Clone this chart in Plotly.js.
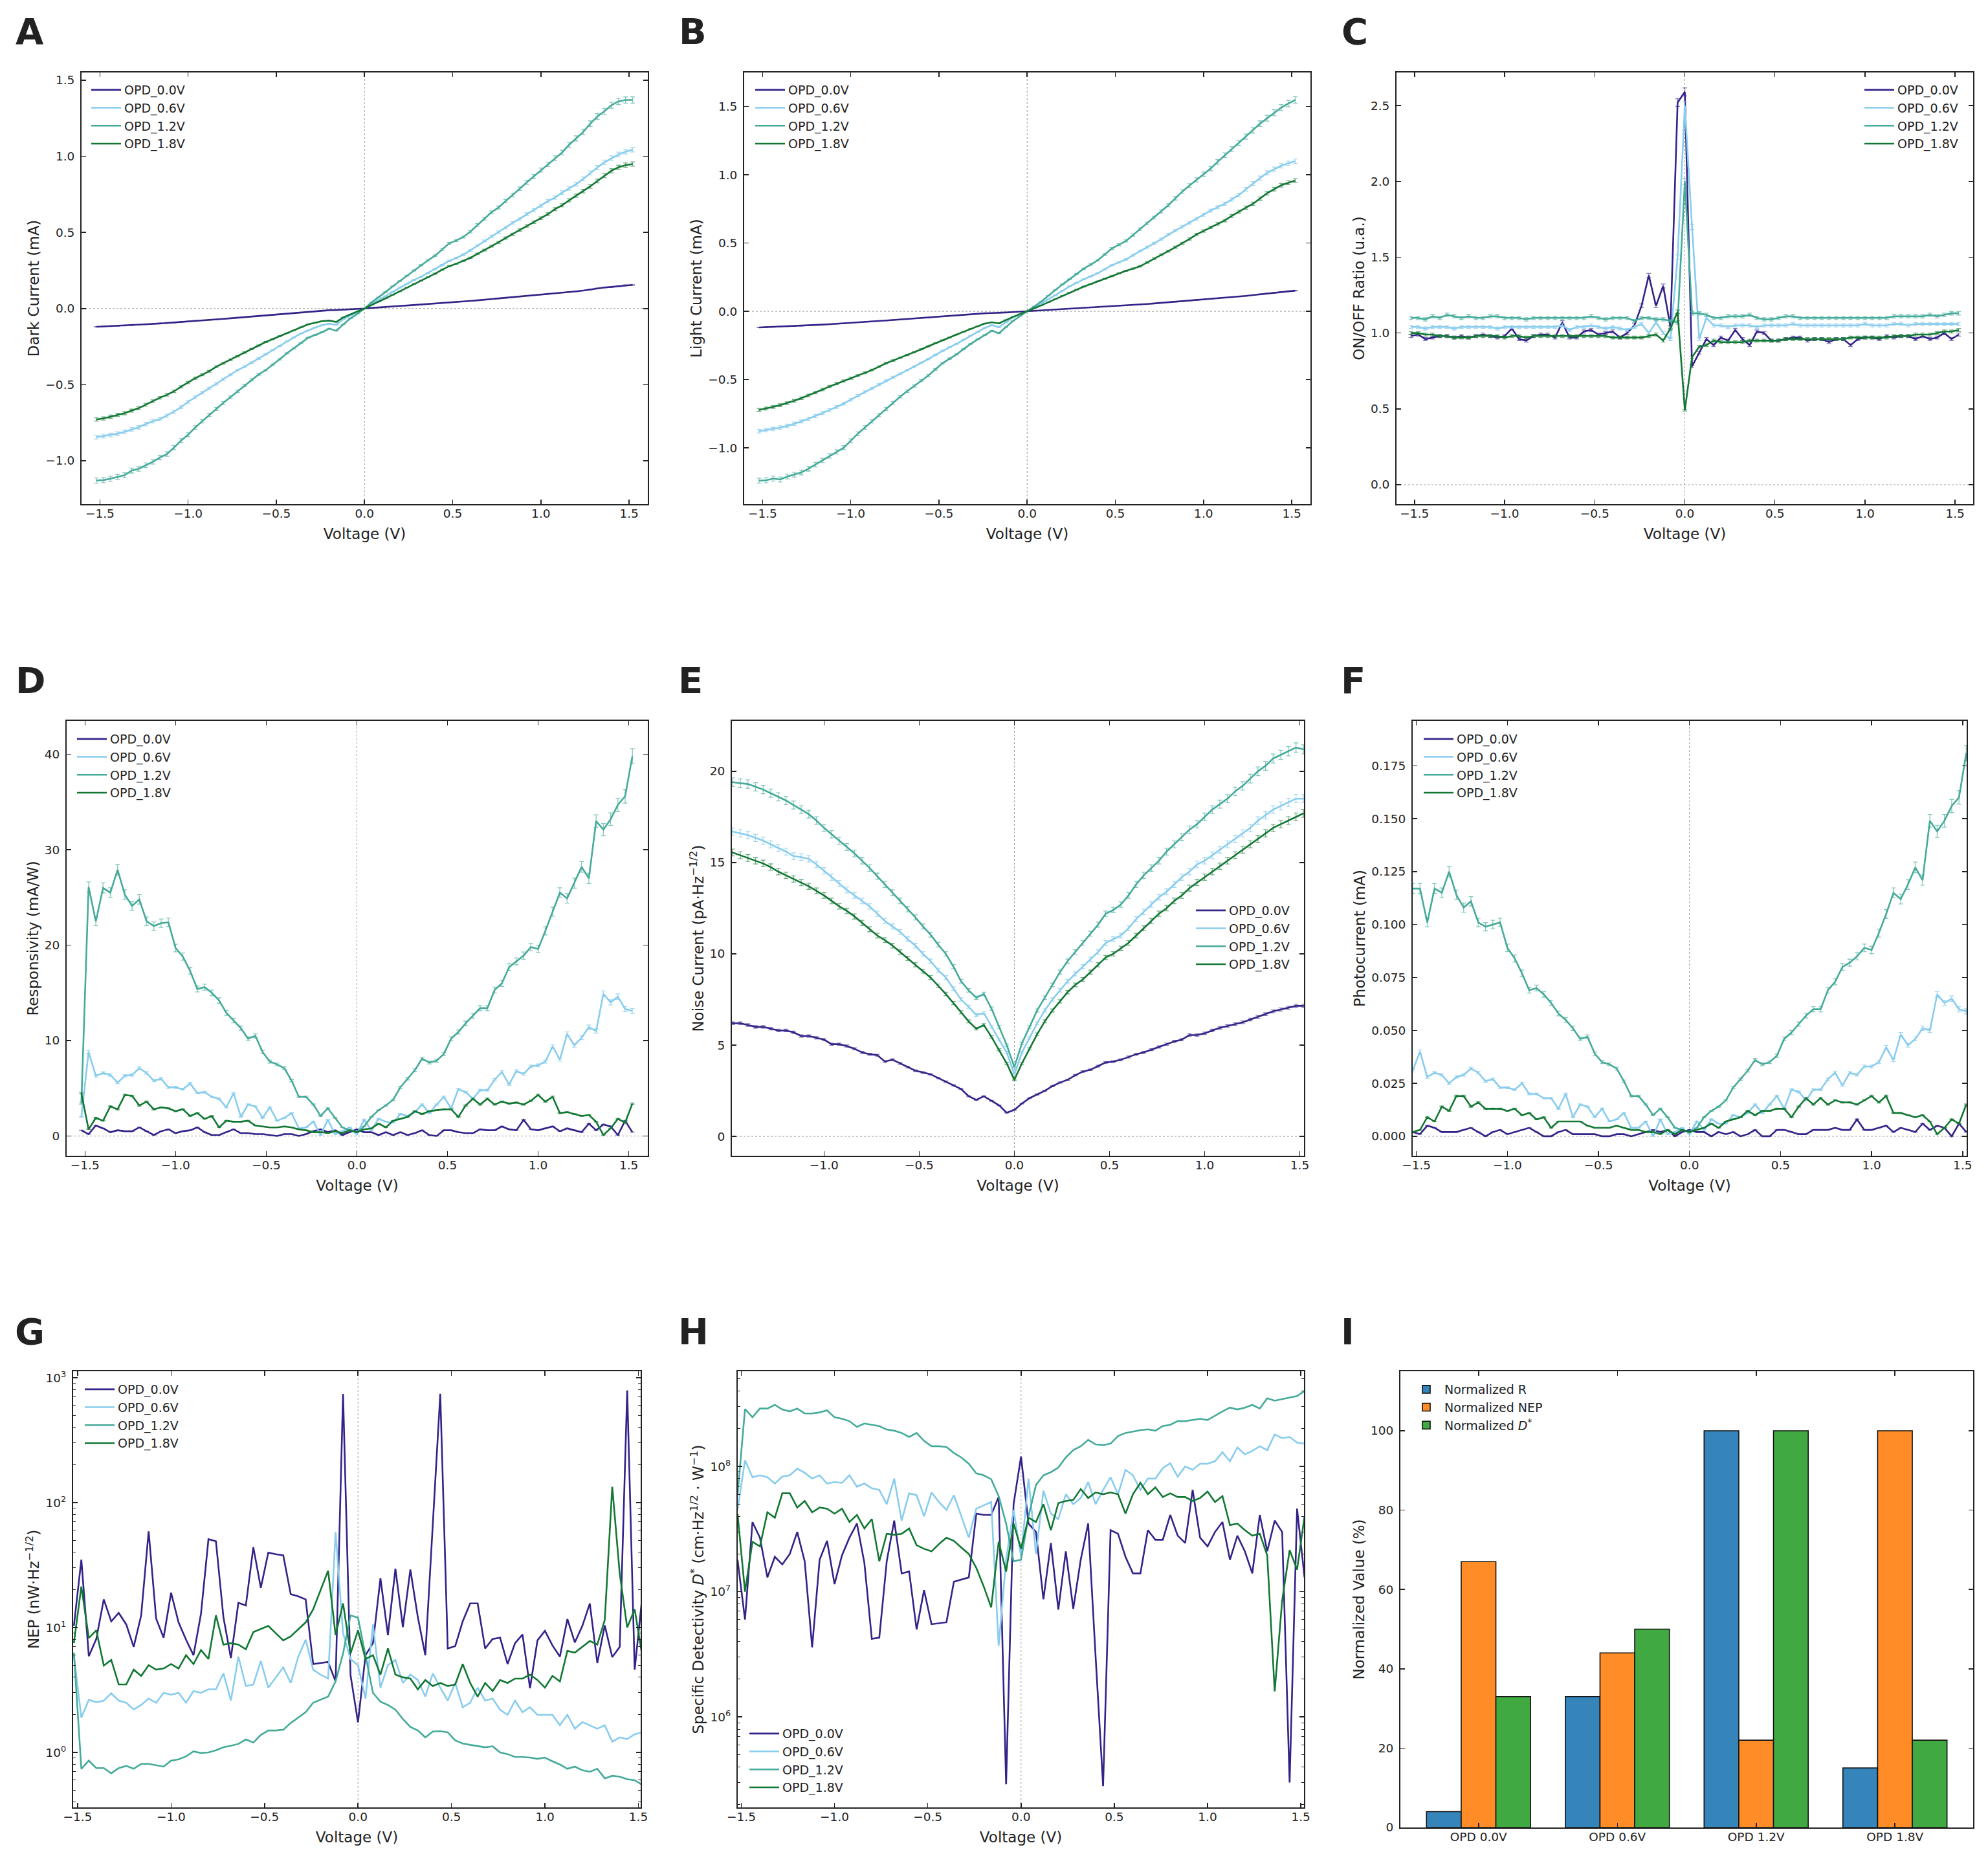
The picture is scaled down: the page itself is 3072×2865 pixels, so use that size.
<!DOCTYPE html>
<html>
<head>
<meta charset="utf-8">
<script src="https://cdn.plot.ly/plotly-3.0.1.min.js"></script>
<style>body{margin:0;background:#fff}#fig{width:3072px;height:2865px}</style>
</head>
<body>
<div id="fig"></div>
<script>
// bias voltage grid (V)
var V = [-1.52,-1.48,-1.44,-1.40,-1.36,-1.32,-1.28,-1.24,-1.20,-1.16,
  -1.12,-1.08,-1.04,-1.00,-0.96,-0.92,-0.88,-0.84,-0.80,-0.76,
  -0.72,-0.68,-0.64,-0.60,-0.56,-0.52,-0.48,-0.44,-0.40,-0.36,
  -0.32,-0.28,-0.24,-0.20,-0.16,-0.12,-0.08,-0.04,0.00,0.04,
  0.08,0.12,0.16,0.20,0.24,0.28,0.32,0.36,0.40,0.44,
  0.48,0.52,0.56,0.60,0.64,0.68,0.72,0.76,0.80,0.84,
  0.88,0.92,0.96,1.00,1.04,1.08,1.12,1.16,1.20,1.24,
  1.28,1.32,1.36,1.40,1.44,1.48,1.52];

var names = ['OPD_0.0V','OPD_0.6V','OPD_1.2V','OPD_1.8V'];
var colors = ['#332288','#88ccee','#44aa99','#117733'];
var errColors = ['rgba(51,34,136,0.6)','rgba(136,204,238,0.75)','rgba(68,170,153,0.65)','rgba(17,119,51,0.6)'];

// A: dark current (mA)
var dark00 = [-0.120,-0.118,-0.116,-0.114,-0.112,-0.110,-0.107,-0.104,-0.101,-0.098,
  -0.095,-0.092,-0.089,-0.085,-0.080,-0.077,-0.075,-0.072,-0.068,-0.064,
  -0.060,-0.056,-0.052,-0.049,-0.045,-0.041,-0.037,-0.034,-0.030,-0.026,
  -0.022,-0.018,-0.014,-0.011,-0.010,-0.008,-0.005,-0.002,0.000,0.004,
  0.008,0.011,0.014,0.017,0.020,0.023,0.026,0.030,0.033,0.036,
  0.040,0.043,0.046,0.050,0.054,0.058,0.062,0.066,0.070,0.074,
  0.078,0.084,0.088,0.091,0.096,0.101,0.105,0.109,0.113,0.118,
  0.125,0.132,0.138,0.142,0.146,0.153,0.155];
var dark06 = [-0.845,-0.838,-0.831,-0.822,-0.810,-0.794,-0.780,-0.759,-0.741,-0.727,
  -0.704,-0.678,-0.648,-0.613,-0.583,-0.553,-0.525,-0.495,-0.465,-0.435,
  -0.405,-0.382,-0.356,-0.329,-0.301,-0.273,-0.245,-0.215,-0.190,-0.164,
  -0.144,-0.125,-0.109,-0.100,-0.107,-0.070,-0.046,-0.023,0.000,0.028,
  0.056,0.081,0.109,0.137,0.162,0.188,0.208,0.234,0.259,0.285,
  0.313,0.331,0.354,0.382,0.412,0.444,0.475,0.502,0.532,0.563,
  0.590,0.620,0.648,0.676,0.706,0.729,0.762,0.789,0.817,0.852,
  0.891,0.926,0.961,0.988,1.012,1.030,1.044];
var dark12 = [-1.130,-1.127,-1.118,-1.106,-1.095,-1.065,-1.053,-1.030,-1.007,-0.979,
  -0.956,-0.914,-0.868,-0.829,-0.782,-0.741,-0.699,-0.660,-0.620,-0.583,
  -0.544,-0.505,-0.468,-0.433,-0.405,-0.370,-0.333,-0.294,-0.262,-0.227,
  -0.192,-0.174,-0.155,-0.132,-0.146,-0.104,-0.065,-0.035,0.000,0.040,
  0.074,0.109,0.146,0.180,0.215,0.250,0.285,0.317,0.347,0.387,
  0.428,0.447,0.470,0.505,0.549,0.590,0.632,0.664,0.706,0.745,
  0.787,0.829,0.868,0.910,0.947,0.988,1.025,1.076,1.118,1.160,
  1.215,1.262,1.296,1.336,1.361,1.370,1.370];
var dark18 = [-0.729,-0.722,-0.711,-0.699,-0.688,-0.671,-0.655,-0.632,-0.609,-0.586,
  -0.567,-0.544,-0.514,-0.486,-0.458,-0.435,-0.412,-0.382,-0.359,-0.336,
  -0.313,-0.289,-0.266,-0.243,-0.220,-0.201,-0.181,-0.162,-0.144,-0.123,
  -0.104,-0.093,-0.083,-0.079,-0.088,-0.058,-0.039,-0.021,0.000,0.023,
  0.044,0.067,0.090,0.113,0.139,0.162,0.183,0.206,0.229,0.255,
  0.278,0.294,0.313,0.333,0.359,0.384,0.410,0.435,0.463,0.488,
  0.516,0.542,0.567,0.593,0.620,0.653,0.678,0.711,0.741,0.771,
  0.803,0.838,0.873,0.905,0.928,0.942,0.949];

// B: light current (mA)
var light00 = [-0.118,-0.116,-0.114,-0.112,-0.110,-0.108,-0.106,-0.103,-0.100,-0.097,
  -0.094,-0.091,-0.088,-0.084,-0.080,-0.077,-0.074,-0.071,-0.067,-0.063,
  -0.059,-0.055,-0.052,-0.049,-0.045,-0.041,-0.037,-0.034,-0.030,-0.026,
  -0.022,-0.018,-0.014,-0.012,-0.011,-0.008,-0.005,-0.002,0.000,0.004,
  0.007,0.010,0.013,0.016,0.019,0.022,0.025,0.028,0.031,0.034,
  0.038,0.041,0.044,0.047,0.050,0.054,0.058,0.062,0.066,0.070,
  0.074,0.078,0.082,0.086,0.090,0.095,0.100,0.104,0.108,0.113,
  0.119,0.125,0.131,0.137,0.142,0.148,0.152];
var light06 = [-0.878,-0.870,-0.862,-0.851,-0.839,-0.823,-0.806,-0.787,-0.767,-0.745,
  -0.723,-0.700,-0.676,-0.647,-0.617,-0.591,-0.565,-0.537,-0.509,-0.483,
  -0.457,-0.431,-0.405,-0.377,-0.349,-0.319,-0.289,-0.263,-0.238,-0.208,
  -0.178,-0.150,-0.121,-0.101,-0.116,-0.080,-0.044,-0.022,0.000,0.030,
  0.059,0.089,0.119,0.151,0.183,0.209,0.235,0.257,0.279,0.308,
  0.338,0.359,0.380,0.411,0.442,0.470,0.498,0.530,0.563,0.591,
  0.620,0.650,0.679,0.708,0.738,0.763,0.788,0.820,0.852,0.894,
  0.937,0.976,1.015,1.042,1.066,1.085,1.100];
var light12 = [-1.240,-1.238,-1.225,-1.232,-1.210,-1.196,-1.180,-1.153,-1.123,-1.092,
  -1.059,-1.030,-0.999,-0.948,-0.896,-0.851,-0.806,-0.760,-0.715,-0.670,
  -0.625,-0.585,-0.547,-0.508,-0.470,-0.425,-0.380,-0.347,-0.315,-0.276,
  -0.238,-0.205,-0.173,-0.142,-0.160,-0.115,-0.070,-0.035,0.000,0.036,
  0.072,0.115,0.158,0.197,0.235,0.274,0.312,0.343,0.374,0.417,
  0.460,0.488,0.516,0.559,0.602,0.645,0.687,0.732,0.777,0.828,
  0.878,0.921,0.963,1.005,1.046,1.095,1.144,1.189,1.234,1.280,
  1.325,1.375,1.415,1.455,1.492,1.522,1.549];
var light18 = [-0.722,-0.712,-0.700,-0.687,-0.672,-0.655,-0.636,-0.616,-0.595,-0.573,
  -0.550,-0.530,-0.510,-0.490,-0.470,-0.450,-0.430,-0.405,-0.380,-0.360,
  -0.340,-0.320,-0.300,-0.278,-0.255,-0.233,-0.212,-0.191,-0.170,-0.149,
  -0.128,-0.109,-0.090,-0.080,-0.088,-0.062,-0.040,-0.020,0.000,0.022,
  0.044,0.067,0.090,0.114,0.137,0.159,0.181,0.200,0.220,0.239,
  0.258,0.278,0.297,0.313,0.330,0.358,0.387,0.414,0.441,0.470,
  0.498,0.530,0.563,0.589,0.615,0.641,0.666,0.699,0.731,0.760,
  0.788,0.826,0.865,0.895,0.924,0.942,0.958];

// C: ON/OFF ratio (u.a.)
var ratio00 = [0.98,0.99,0.96,0.97,0.98,0.98,0.97,0.98,0.97,0.98,
  0.99,0.98,0.97,0.98,1.03,0.96,0.95,0.98,0.99,0.99,
  0.97,1.07,0.97,0.97,1.01,1.02,0.99,1.00,1.01,0.97,
  1.00,1.05,1.18,1.38,1.18,1.31,1.04,2.52,2.59,0.78,
  0.87,0.96,0.92,0.97,0.95,1.02,0.96,0.92,1.01,1.00,
  0.95,0.95,0.96,0.97,0.97,0.95,0.96,0.96,0.94,0.96,
  0.96,0.92,0.96,0.97,0.97,0.96,0.98,0.97,0.98,0.98,
  0.96,0.98,0.96,0.97,1.00,0.96,0.99];
var ratio06 = [1.04,1.04,1.03,1.04,1.04,1.04,1.03,1.04,1.04,1.04,
  1.04,1.04,1.03,1.04,1.04,1.04,1.04,1.04,1.04,1.04,
  1.04,1.05,1.02,1.04,1.04,1.05,1.04,1.03,1.04,1.03,
  1.02,1.04,1.06,1.00,1.07,1.00,0.96,1.50,2.50,1.70,
  0.96,1.10,1.05,1.05,1.04,1.05,1.05,1.05,1.04,1.05,
  1.05,1.05,1.05,1.06,1.05,1.05,1.05,1.05,1.05,1.05,
  1.05,1.05,1.05,1.06,1.05,1.05,1.05,1.06,1.06,1.05,
  1.06,1.06,1.06,1.06,1.06,1.06,1.06];
var ratio12 = [1.10,1.10,1.09,1.11,1.10,1.12,1.11,1.10,1.11,1.10,
  1.10,1.11,1.11,1.10,1.10,1.10,1.09,1.10,1.10,1.10,
  1.10,1.10,1.10,1.10,1.10,1.11,1.10,1.09,1.10,1.10,
  1.10,1.08,1.10,1.10,1.09,1.09,1.08,1.07,2.00,1.13,
  1.13,1.12,1.10,1.10,1.11,1.11,1.11,1.12,1.10,1.09,
  1.09,1.10,1.11,1.11,1.10,1.10,1.10,1.10,1.10,1.10,
  1.10,1.10,1.10,1.10,1.10,1.10,1.10,1.11,1.11,1.11,
  1.11,1.11,1.12,1.11,1.12,1.13,1.13];
var ratio18 = [1.00,1.00,0.99,0.99,0.98,0.98,0.97,0.97,0.97,0.98,
  0.98,0.98,0.98,0.97,0.98,0.98,0.97,0.98,0.98,0.98,
  0.98,0.98,0.98,0.98,0.98,0.98,0.98,0.98,0.97,0.97,
  0.97,0.97,0.97,0.98,0.99,0.95,1.03,1.14,0.49,0.84,
  0.91,0.92,0.95,0.94,0.94,0.94,0.94,0.95,0.95,0.95,
  0.95,0.95,0.96,0.96,0.96,0.96,0.96,0.96,0.96,0.96,
  0.96,0.97,0.97,0.97,0.97,0.97,0.97,0.98,0.98,0.98,
  0.99,0.99,0.99,1.00,1.01,1.01,1.02];

// D: responsivity (mA/W)
var resp00 = [0.6,0.2,1.1,0.8,0.4,0.6,0.5,0.5,0.9,0.5,
  0.1,0.5,0.7,0.3,0.5,0.6,0.9,0.4,0.1,0.1,
  0.4,0.7,0.3,0.3,0.2,0.2,0.1,0.0,0.2,0.2,
  0.0,0.2,0.5,0.7,0.4,0.6,0.1,0.4,0.7,0.4,
  0.4,0.1,0.4,0.1,0.4,0.1,0.3,0.6,0.1,0.0,
  0.6,0.6,0.4,0.3,0.3,0.7,0.6,0.6,1.0,0.7,
  0.6,1.7,0.7,0.6,0.8,1.0,0.5,0.8,0.6,0.4,
  1.3,0.6,1.2,1.0,0.1,1.6,0.4];
var resp06 = [2.0,8.8,6.3,6.6,6.4,5.6,6.3,6.4,7.1,6.6,
  5.8,6.0,5.1,5.1,4.9,5.5,4.5,4.6,4.1,3.9,
  3.0,4.5,2.0,3.3,3.1,1.9,3.0,1.6,1.9,2.4,
  0.8,0.9,1.5,0.1,1.7,0.2,0.5,0.9,0.2,1.7,
  0.6,1.8,1.5,1.4,2.3,2.1,2.5,3.3,2.4,3.3,
  4.1,2.9,4.9,4.6,3.9,4.8,4.8,5.9,6.7,5.4,
  6.8,6.5,7.3,7.4,7.8,9.4,8.0,10.7,9.5,10.3,
  11.4,11.0,14.9,14.0,14.6,13.3,13.1];
var resp12 = [3.4,26.1,22.5,26.0,25.5,27.9,25.3,24.1,24.8,22.5,
  22.0,22.3,22.4,19.7,18.8,17.3,15.4,15.6,15.0,14.2,
  12.9,12.1,11.3,10.2,10.5,8.8,7.8,7.5,7.1,5.8,
  4.1,4.1,3.3,2.1,2.9,1.9,0.9,0.6,0.4,1.0,
  2.0,2.7,3.2,3.8,5.1,6.0,6.9,8.1,7.7,7.9,
  8.6,10.2,10.9,11.8,12.6,13.4,13.4,15.3,16.0,17.7,
  18.3,18.9,19.8,19.6,21.5,23.5,25.5,24.9,26.5,28.2,
  27.0,33.0,32.1,33.2,34.7,35.6,39.8];
var resp18 = [4.5,0.7,1.9,1.6,3.1,2.8,4.3,4.2,3.2,3.6,
  2.8,3.0,2.9,2.6,2.8,2.1,2.4,1.8,2.1,0.9,
  1.6,1.5,1.5,1.6,1.1,1.0,0.9,0.9,1.0,0.9,
  0.7,0.6,0.4,0.4,0.3,0.5,0.3,0.6,0.4,0.7,
  0.8,1.3,0.9,1.6,1.8,2.0,2.6,2.3,2.6,2.7,
  2.8,2.8,2.0,3.2,3.9,3.3,3.9,3.3,3.6,3.4,
  3.5,3.3,3.7,4.3,3.6,4.1,2.4,2.5,2.3,2.1,
  2.2,1.5,0.1,0.8,1.8,1.4,3.4];

// E: noise current (pA/Hz^1/2)
var noise00 = [6.2,6.2,6.2,6.1,6.0,6.0,5.9,5.8,5.8,5.7,
  5.5,5.5,5.4,5.3,5.05,5.05,4.95,4.8,4.6,4.5,
  4.45,4.1,4.2,4.0,3.8,3.6,3.5,3.4,3.2,3.0,
  2.8,2.6,2.2,2.0,2.2,1.95,1.7,1.3,1.45,1.8,
  2.1,2.3,2.5,2.75,2.95,3.1,3.35,3.55,3.65,3.85,
  4.05,4.1,4.2,4.35,4.5,4.6,4.75,4.9,5.05,5.2,
  5.3,5.55,5.55,5.65,5.8,5.95,6.05,6.15,6.25,6.4,
  6.55,6.7,6.85,6.95,7.05,7.15,7.15];
var noise06 = [16.75,16.7,16.6,16.5,16.35,16.2,16.0,15.8,15.6,15.35,
  15.3,15.2,14.9,14.55,14.2,13.85,13.5,13.2,12.9,12.6,
  12.2,11.8,11.5,11.2,10.8,10.45,10.0,9.6,9.1,8.7,
  8.1,7.5,7.1,6.65,6.75,6.0,5.3,4.6,3.4,4.6,
  5.4,6.2,6.9,7.5,8.0,8.5,8.9,9.3,9.7,10.1,
  10.6,10.8,11.0,11.4,11.9,12.3,12.7,13.1,13.4,13.8,
  14.2,14.5,14.9,15.1,15.4,15.7,16.0,16.3,16.6,16.9,
  17.3,17.6,17.9,18.1,18.3,18.5,18.5];
var noise12 = [19.4,19.4,19.35,19.3,19.15,19.0,18.8,18.6,18.4,18.15,
  17.9,17.65,17.3,16.9,16.55,16.2,15.85,15.5,15.1,14.7,
  14.25,13.8,13.35,12.9,12.45,12.0,11.5,11.05,10.5,10.0,
  9.3,8.5,8.0,7.6,7.8,7.0,6.0,5.0,3.8,5.1,
  6.0,6.9,7.6,8.3,9.0,9.6,10.1,10.6,11.1,11.6,
  12.2,12.4,12.7,13.2,13.8,14.3,14.7,15.1,15.6,16.0,
  16.4,16.8,17.1,17.5,17.9,18.2,18.5,18.9,19.2,19.6,
  20.0,20.3,20.7,20.9,21.1,21.3,21.2];
var noise18 = [15.6,15.55,15.4,15.25,15.1,14.95,14.75,14.5,14.3,14.1,
  13.9,13.7,13.45,13.2,12.9,12.6,12.35,12.05,11.7,11.35,
  11.0,10.75,10.45,10.1,9.75,9.4,9.05,8.7,8.25,7.8,
  7.3,6.8,6.3,5.9,6.1,5.45,4.75,4.0,3.1,4.0,
  4.8,5.6,6.3,6.9,7.4,7.9,8.3,8.6,9.0,9.4,
  9.8,10.0,10.3,10.6,11.0,11.4,11.8,12.2,12.5,12.9,
  13.2,13.6,13.9,14.2,14.5,14.8,15.1,15.4,15.7,16.0,
  16.3,16.6,16.9,17.1,17.3,17.5,17.7];

// F: photocurrent (mA)
var photo00 = [0.002,0.001,0.005,0.004,0.002,0.002,0.002,0.003,0.004,0.002,
  0.000,0.002,0.003,0.001,0.002,0.003,0.004,0.002,0.000,0.000,
  0.002,0.003,0.001,0.001,0.001,0.001,0.000,0.000,0.001,0.001,
  0.000,0.001,0.002,0.003,0.002,0.003,0.000,0.002,0.003,0.002,
  0.002,0.000,0.002,0.001,0.002,0.000,0.001,0.003,0.000,0.000,
  0.003,0.003,0.002,0.001,0.001,0.003,0.003,0.003,0.004,0.003,
  0.003,0.008,0.003,0.003,0.004,0.005,0.002,0.004,0.003,0.002,
  0.006,0.003,0.005,0.004,0.000,0.006,0.002];
var photo06 = [0.031,0.040,0.028,0.030,0.029,0.025,0.028,0.029,0.032,0.030,
  0.026,0.027,0.023,0.023,0.022,0.025,0.020,0.020,0.018,0.018,
  0.013,0.020,0.009,0.015,0.014,0.009,0.013,0.007,0.008,0.011,
  0.004,0.004,0.007,0.000,0.008,0.001,0.002,0.004,0.001,0.007,
  0.003,0.008,0.006,0.006,0.010,0.009,0.011,0.015,0.011,0.015,
  0.019,0.013,0.022,0.021,0.017,0.022,0.022,0.027,0.030,0.024,
  0.030,0.029,0.033,0.033,0.035,0.042,0.036,0.048,0.043,0.046,
  0.051,0.050,0.067,0.063,0.065,0.060,0.059];
var photo12 = [0.117,0.117,0.101,0.117,0.115,0.125,0.114,0.108,0.111,0.101,
  0.099,0.100,0.101,0.089,0.084,0.077,0.069,0.070,0.067,0.063,
  0.058,0.055,0.051,0.046,0.047,0.039,0.035,0.034,0.032,0.026,
  0.019,0.019,0.015,0.010,0.013,0.009,0.004,0.003,0.002,0.004,
  0.009,0.012,0.014,0.017,0.023,0.027,0.031,0.036,0.034,0.035,
  0.038,0.046,0.049,0.053,0.057,0.060,0.060,0.069,0.073,0.080,
  0.082,0.085,0.089,0.088,0.096,0.105,0.115,0.112,0.119,0.127,
  0.121,0.149,0.144,0.149,0.156,0.160,0.181];
var photo18 = [0.002,0.003,0.009,0.007,0.014,0.012,0.019,0.019,0.014,0.016,
  0.013,0.013,0.013,0.012,0.013,0.010,0.011,0.008,0.009,0.004,
  0.007,0.007,0.007,0.007,0.005,0.004,0.004,0.004,0.005,0.004,
  0.003,0.003,0.002,0.002,0.001,0.003,0.001,0.003,0.002,0.003,
  0.004,0.006,0.004,0.007,0.008,0.009,0.012,0.010,0.012,0.012,
  0.013,0.013,0.009,0.014,0.018,0.015,0.018,0.015,0.017,0.016,
  0.016,0.015,0.017,0.019,0.016,0.019,0.011,0.011,0.010,0.009,
  0.010,0.007,0.001,0.004,0.008,0.006,0.015];

// G: NEP (nW/Hz^1/2)
var nep00 = [10.3,35,5.9,8.1,16.8,11.2,13.1,10.6,7.0,12.5,
  59,11.8,8.3,19,11,8.0,6.0,12.9,51,49,
  12.1,5.7,15.8,15.0,44,20.8,39.8,38.6,37.9,18.5,
  17.8,16.8,5.1,5.2,5.3,3.7,743,4.15,1.74,6.0,
  7.5,24.8,8.7,29.6,10.1,29.1,12.1,6.0,67,745,
  6.8,7.1,11.2,15.6,15.6,6.8,8.1,8.3,5.1,7.5,
  8.8,3.27,7.9,9.4,7.2,5.85,11.7,7.6,10.3,15.6,
  5.2,10.4,5.8,7.0,793,4.6,17.4];
var nep06 = [6.0,1.9,2.64,2.52,2.6,2.98,2.6,2.5,2.21,2.4,
  2.7,2.5,3.0,2.9,3.0,2.5,3.1,3.0,3.2,3.2,
  4.3,2.6,5.85,3.4,3.5,5.4,3.3,4.0,4.8,3.6,
  5.8,8.0,4.6,4.2,3.9,58,9.0,5.6,5.0,2.7,
  10.6,3.3,5.0,5.5,3.6,4.2,3.8,2.8,4.3,3.3,
  2.6,3.6,2.3,2.5,3.3,2.6,2.7,2.2,2.0,2.6,
  2.1,2.3,2.0,2.0,2.0,1.65,2.0,1.55,1.75,1.65,
  1.55,1.65,1.22,1.32,1.28,1.4,1.45];
var nep12 = [6.3,0.74,0.86,0.75,0.75,0.68,0.75,0.78,0.74,0.81,
  0.81,0.79,0.77,0.86,0.88,0.93,1.02,0.99,1.0,1.04,
  1.1,1.13,1.17,1.27,1.2,1.38,1.5,1.5,1.52,1.72,
  1.9,2.1,2.5,2.65,2.8,3.7,6.2,12.5,12,6.0,
  3.0,2.55,2.4,2.2,1.85,1.6,1.5,1.32,1.47,1.48,
  1.45,1.25,1.18,1.15,1.12,1.1,1.12,1.0,0.97,0.92,
  0.92,0.91,0.89,0.91,0.85,0.8,0.74,0.77,0.72,0.7,
  0.74,0.62,0.65,0.64,0.61,0.6,0.55];
var nep18 = [7.5,21.3,8.25,9.5,4.96,5.5,3.5,3.5,4.6,4.1,
  5.0,4.6,4.7,5.1,4.7,6.0,5.1,6.6,5.6,12.5,
  7.3,7.5,7.3,6.7,9.2,9.7,10.3,9.0,7.9,8.5,
  9.7,11,14,20,28.5,8.7,15.6,6.2,9.5,5.6,
  6.0,4.2,6.8,4.2,4.0,3.9,3.2,3.8,3.4,3.6,
  3.4,3.5,5.1,3.6,2.8,3.6,3.1,3.8,3.6,3.9,
  3.9,4.2,3.8,3.3,4.1,3.7,6.5,6.3,7.0,7.8,
  7.3,11.5,134,27,10,14,6];

// H: specific detectivity (Jones)
var det00 = [1.8e7,6.0e6,3.6e7,2.7e7,1.3e7,1.9e7,1.65e7,2.0e7,3.0e7,1.75e7,
  3.6e6,1.8e7,2.55e7,1.15e7,1.95e7,2.7e7,3.5e7,1.7e7,4.2e6,4.3e6,
  1.75e7,3.7e7,1.4e7,1.45e7,5.0e6,1.03e7,5.5e6,5.6e6,5.7e6,1.2e7,
  1.25e7,1.3e7,4.2e7,4.1e7,4.1e7,5.7e7,2.9e5,5.0e7,1.2e8,3.5e7,
  3.0e7,8.7e6,2.45e7,7.2e6,2.1e7,7.3e6,1.8e7,3.5e7,3.0e6,2.8e5,
  3.1e7,2.9e7,1.9e7,1.4e7,1.4e7,3.1e7,2.6e7,2.6e7,4.1e7,2.8e7,
  2.45e7,6.5e7,2.7e7,2.3e7,3.0e7,3.6e7,1.8e7,2.8e7,2.1e7,1.4e7,
  4.1e7,2.1e7,3.7e7,3.0e7,3.0e5,4.6e7,1.3e7];
var det06 = [4.5e7,1.12e8,8.2e7,8.5e7,8.2e7,7.3e7,8.3e7,8.5e7,9.6e7,8.9e7,
  8.0e7,8.5e7,7.3e7,7.5e7,7.4e7,8.5e7,6.9e7,7.3e7,6.7e7,6.5e7,
  5.0e7,8.0e7,3.7e7,6.1e7,5.9e7,4.0e7,6.2e7,5.2e7,4.5e7,5.9e7,
  4.0e7,2.7e7,4.6e7,4.9e7,5.2e7,3.7e6,1.8e7,4.5e7,1.9e7,8.0e7,
  2.0e7,6.4e7,4.2e7,3.8e7,6.0e7,5.0e7,5.6e7,7.5e7,5.0e7,6.5e7,
  8.2e7,6.0e7,9.4e7,8.5e7,6.5e7,8.0e7,8.0e7,9.7e7,1.06e8,8.3e7,
  1.0e8,9.4e7,1.05e8,1.05e8,1.1e8,1.3e8,1.1e8,1.42e8,1.25e8,1.33e8,
  1.45e8,1.35e8,1.8e8,1.68e8,1.72e8,1.55e8,1.52e8];
var det12 = [5.9e7,2.87e8,2.47e8,2.9e8,2.9e8,3.1e8,2.85e8,2.75e8,2.9e8,2.65e8,
  2.65e8,2.7e8,2.8e8,2.47e8,2.4e8,2.3e8,2.07e8,2.2e8,2.15e8,2.1e8,
  1.97e8,1.93e8,1.85e8,1.72e8,1.85e8,1.6e8,1.45e8,1.45e8,1.43e8,1.28e8,
  1.18e8,1.05e8,8.8e7,8.5e7,7.9e7,5.8e7,3.5e7,1.75e7,1.8e7,4.0e7,
  7.1e7,8.5e7,9.0e7,9.8e7,1.18e8,1.35e8,1.45e8,1.63e8,1.5e8,1.48e8,
  1.52e8,1.75e8,1.85e8,1.9e8,1.95e8,1.98e8,1.93e8,2.1e8,2.15e8,2.3e8,
  2.3e8,2.35e8,2.4e8,2.35e8,2.55e8,2.75e8,2.95e8,2.85e8,2.95e8,3.1e8,
  2.9e8,3.5e8,3.35e8,3.45e8,3.55e8,3.65e8,4.0e8];
var det18 = [4.2e7,1.0e7,2.5e7,2.3e7,4.3e7,3.9e7,6.1e7,6.1e7,4.7e7,5.3e7,
  4.3e7,4.7e7,4.6e7,4.2e7,4.6e7,3.6e7,4.1e7,3.2e7,3.8e7,1.75e7,
  2.9e7,2.85e7,2.9e7,3.2e7,2.35e7,2.2e7,2.1e7,2.4e7,2.7e7,2.55e7,
  2.25e7,2.0e7,1.55e7,1.1e7,7.5e6,2.5e7,1.45e7,3.5e7,2.2e7,3.9e7,
  3.6e7,5.0e7,3.1e7,5.1e7,5.3e7,5.4e7,6.6e7,5.6e7,6.2e7,6.0e7,
  6.2e7,6.0e7,4.2e7,6.0e7,7.4e7,6.0e7,6.8e7,5.7e7,6.1e7,5.7e7,
  5.7e7,5.3e7,5.6e7,6.3e7,5.2e7,5.8e7,3.4e7,3.5e7,3.1e7,2.8e7,
  2.9e7,1.95e7,1.6e6,8.5e6,2.15e7,1.5e7,4.0e7];

// I: normalized figures of merit (%)
var devices = ['OPD 0.0V','OPD 0.6V','OPD 1.2V','OPD 1.8V'];
var normR = [4, 33, 100, 15];
var normNEP = [67, 44, 22, 100];
var normD = [33, 50, 100, 22];

var traces = [];

function sfx(n) { return n > 1 ? String(n) : ''; }

function addPanel(n, series, errPct) {
  series.forEach(function(ys, i) {
    var t = {
      type: 'scatter', mode: 'lines', x: V, y: ys, name: names[i],
      xaxis: 'x' + sfx(n), yaxis: 'y' + sfx(n), legend: 'legend' + sfx(n),
      line: {color: colors[i], width: 2.6}, hoverinfo: 'skip'
    };
    if (errPct) t.error_y = {type: 'percent', value: errPct, color: errColors[i], thickness: 1.3, width: 3.5};
    traces.push(t);
  });
}

addPanel(1, [dark00, dark06, dark12, dark18], 1.5);
addPanel(2, [light00, light06, light12, light18], 1.5);
addPanel(3, [ratio00, ratio06, ratio12, ratio18], 1);
addPanel(4, [resp00, resp06, resp12, resp18], 2);
addPanel(5, [noise00, noise06, noise12, noise18], 1.2);
addPanel(6, [photo00, photo06, photo12, photo18], 2);
addPanel(7, [nep00, nep06, nep12, nep18], 0);
addPanel(8, [det00, det06, det12, det18], 0);

var barCols = ['#3585bb', '#ff8c26', '#41a941'];
var barNames = ['Normalized R', 'Normalized NEP', 'Normalized <i>D</i><sup>*</sup>'];
[normR, normNEP, normD].forEach(function(vals, i) {
  traces.push({
    type: 'bar', x: devices, y: vals, name: barNames[i],
    xaxis: 'x9', yaxis: 'y9', legend: 'legend9',
    marker: {color: barCols[i], line: {color: '#111', width: 1.6}}, hoverinfo: 'skip'
  });
});

var W = 3072, H = 2865;
var tickFont = {family: 'DejaVu Sans', size: 18.5, color: '#222'};
var titleFont = {family: 'DejaVu Sans', size: 23, color: '#222'};

function ax(px0, px1, horiz, extra) {
  var dom = horiz ? [px0 / W, px1 / W] : [1 - px1 / H, 1 - px0 / H];
  var a = {
    domain: dom, showline: true, mirror: 'allticks', linecolor: '#222', linewidth: 2,
    ticks: 'inside', ticklen: 7, tickwidth: 1.5, tickcolor: '#222',
    showgrid: false, zeroline: false, tickfont: tickFont,
    ticklabelstandoff: horiz ? -3 : 5
  };
  return Object.assign(a, extra);
}

function xt(text) { return {text: text, font: titleFont, standoff: 14}; }
function yt(text) { return {text: text, font: titleFont, standoff: 3}; }

var volt = 'Voltage (V)';
var logMinor = {ticks: 'inside', ticklen: 4, tickwidth: 1, tickcolor: '#222', dtick: 'D1', showgrid: false};

var layout = {
  width: W, height: H, margin: {l: 0, r: 0, t: 0, b: 0},
  paper_bgcolor: '#fff', plot_bgcolor: '#fff', showlegend: true,
  font: {family: 'DejaVu Sans', color: '#222'},
  barmode: 'group', bargap: 0.25, bargroupgap: 0,

  xaxis: ax(126, 1001, true, {anchor: 'y', range: [-1.604, 1.606], dtick: 0.5, tickformat: '.1f', title: xt(volt)}),
  yaxis: ax(112, 779, false, {anchor: 'x', range: [-1.285, 1.551], dtick: 0.5, tickformat: '.1f', title: yt('Dark Current (mA)')}),
  xaxis2: ax(1150, 2025, true, {anchor: 'y2', range: [-1.604, 1.606], dtick: 0.5, tickformat: '.1f', title: xt(volt)}),
  yaxis2: ax(112, 779, false, {anchor: 'x2', range: [-1.412, 1.75], dtick: 0.5, tickformat: '.1f', title: yt('Light Current (mA)')}),
  xaxis3: ax(2158, 3049, true, {anchor: 'y3', range: [-1.6, 1.6], dtick: 0.5, tickformat: '.1f', title: xt(volt)}),
  yaxis3: ax(112, 779, false, {anchor: 'x3', range: [-0.128, 2.718], dtick: 0.5, tickformat: '.1f', title: yt('ON/OFF Ratio (u.a.)')}),

  xaxis4: ax(103, 1001, true, {anchor: 'y4', range: [-1.601, 1.605], dtick: 0.5, tickformat: '.1f', title: xt(volt)}),
  yaxis4: ax(1114, 1786, false, {anchor: 'x4', range: [-2.07, 43.5], dtick: 10, title: yt('Responsivity (mA/W)')}),
  xaxis5: ax(1131, 2015, true, {anchor: 'y5', range: [-1.484, 1.522], dtick: 0.5, tickformat: '.1f', title: xt(volt)}),
  yaxis5: ax(1114, 1786, false, {anchor: 'x5', range: [-1.06, 22.76], dtick: 5, title: yt('Noise Current (pA·Hz<sup>−1/2</sup>)')}),
  xaxis6: ax(2183, 3039, true, {anchor: 'y6', range: [-1.52, 1.522], dtick: 0.5, tickformat: '.1f', title: xt(volt)}),
  yaxis6: ax(1114, 1786, false, {anchor: 'x6', range: [-0.0092, 0.1962], dtick: 0.025, tickformat: '.3f', title: yt('Photocurrent (mA)')}),

  xaxis7: ax(113, 990, true, {anchor: 'y7', range: [-1.524, 1.512], dtick: 0.5, tickformat: '.1f', title: xt(volt)}),
  yaxis7: ax(2119, 2793, false, {anchor: 'x7', type: 'log', range: [-0.44, 3.052],
    tickmode: 'array', tickvals: [1, 10, 100, 1000],
    ticktext: ['10<sup>0</sup>', '10<sup>1</sup>', '10<sup>2</sup>', '10<sup>3</sup>'],
    minor: logMinor, title: yt('NEP (nW·Hz<sup>−1/2</sup>)')}),
  xaxis8: ax(1140, 2015, true, {anchor: 'y8', range: [-1.519, 1.517], dtick: 0.5, tickformat: '.1f', title: xt(volt)}),
  yaxis8: ax(2119, 2793, false, {anchor: 'x8', type: 'log', range: [5.278, 8.76],
    tickmode: 'array', tickvals: [1e6, 1e7, 1e8],
    ticktext: ['10<sup>6</sup>', '10<sup>7</sup>', '10<sup>8</sup>'],
    minor: logMinor, title: yt('Specific Detectivity <i>D</i><sup>*</sup> (cm·Hz<sup>1/2</sup> · W<sup>−1</sup>)')}),
  xaxis9: ax(2164, 3049, true, {anchor: 'y9', type: 'category', range: [-0.563, 3.563]}),
  yaxis9: ax(2119, 2824, false, {anchor: 'x9', range: [0, 115], dtick: 20, title: yt('Normalized Value (%)')}),

  shapes: [],
  annotations: []
};

function legendAt(xpx, ypx, anchorY) {
  return {
    x: xpx / W, y: 1 - ypx / H, xanchor: 'left', yanchor: anchorY || 'top',
    bgcolor: 'rgba(0,0,0,0)', borderwidth: 0, tracegroupgap: 0, itemwidth: 46,
    font: {family: 'DejaVu Sans', size: 19, color: '#222'}
  };
}
layout.legend = legendAt(136, 120);
layout.legend2 = legendAt(1162, 120);
layout.legend3 = legendAt(2876, 120);
layout.legend4 = legendAt(114, 1123);
layout.legend5 = legendAt(1843, 1388);
layout.legend6 = legendAt(2195, 1123);
layout.legend7 = legendAt(126, 2128);
layout.legend8 = legendAt(1153, 2781, 'bottom');
layout.legend9 = legendAt(2176, 2128);

// dotted reference lines at zero
var refStyle = {color: '#9a9a9a', width: 1, dash: 'dot'};
for (var n = 1; n <= 8; n++) {
  var s = sfx(n);
  layout.shapes.push({type: 'line', xref: 'x' + s, yref: 'y' + s + ' domain', x0: 0, x1: 0, y0: 0, y1: 1, line: refStyle, layer: 'below'});
  if (n <= 6) {
    layout.shapes.push({type: 'line', xref: 'x' + s + ' domain', yref: 'y' + s, x0: 0, x1: 1, y0: 0, y1: 0, line: refStyle, layer: 'below'});
  }
}

// panel letters
var letters = [['A', 46, 48], ['B', 1070, 48], ['C', 2093, 48],
  ['D', 47, 1052], ['E', 1067, 1052], ['F', 2091, 1052],
  ['G', 46, 2057], ['H', 1071, 2057], ['I', 2082, 2057]];
letters.forEach(function(l) {
  layout.annotations.push({
    text: '<b>' + l[0] + '</b>', x: l[1] / W, y: 1 - l[2] / H, xref: 'paper', yref: 'paper',
    xanchor: 'center', yanchor: 'middle', showarrow: false,
    font: {family: 'DejaVu Sans', size: 56, color: '#222'}
  });
});

Plotly.newPlot('fig', traces, layout, {displayModeBar: false, staticPlot: true});
</script>
</body>
</html>
